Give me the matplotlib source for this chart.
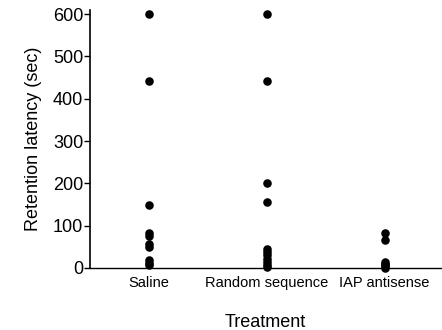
import matplotlib
matplotlib.use("Agg")
import matplotlib.pyplot as plt

plt.rcParams["font.family"] = ["Liberation Sans", "DejaVu Sans"]

categories = ["Saline", "Random sequence", "IAP antisense"]
saline = [600, 443, 150, 82, 76, 57, 50, 18, 12, 8]
random_seq = [600, 442, 202, 155, 45, 38, 30, 22, 15, 8, 3]
iap = [83, 66, 15, 10, 6, 3, 1]
y_ticks = [0, 100, 200, 300, 400, 500, 600]

groups = [saline, random_seq, iap]

fig = plt.figure(figsize=(4.42, 3.30), dpi=100)
ax = fig.add_axes([0.204, 0.188, 0.794, 0.782])

for i, vals in enumerate(groups):
    ax.scatter([i] * len(vals), vals, s=38, color="black", linewidths=0,
               zorder=3, clip_on=False)

ax.set_xlim(-0.5, 2.48)
ax.set_ylim(0, 610)
ax.set_yticks(y_ticks)
ax.set_xticks(range(len(categories)))
ax.set_xticklabels(categories, fontsize=10.5)
ax.tick_params(axis="x", length=0, pad=6)
ax.tick_params(axis="y", length=4, width=1, labelsize=13, pad=1, direction="out")
ax.spines["top"].set_visible(False)
ax.spines["right"].set_visible(False)
ax.spines["left"].set_linewidth(1.2)
ax.spines["bottom"].set_linewidth(1.0)
ax.set_ylabel("Retention latency (sec)", fontsize=13, labelpad=8)
ax.set_xlabel("Treatment", fontsize=13, labelpad=17)

fig.savefig("out.png", dpi=100)
